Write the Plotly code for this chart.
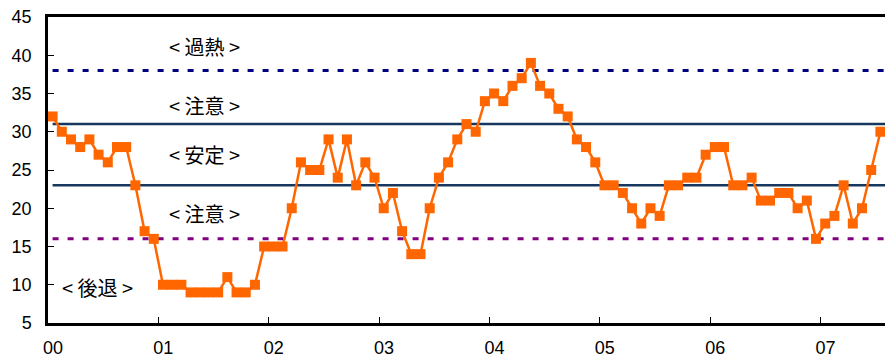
import plotly.graph_objects as go

# Monthly index values, Jan 2000 - Jul 2007
v2000 = [32, 30, 29, 28, 29, 27, 26, 28, 28, 23, 17, 16]
v2001 = [10, 10, 10, 9, 9, 9, 9, 11, 9, 9, 10, 15]
v2002 = [15, 15, 20, 26, 25, 25, 29, 24, 29, 23, 26, 24]
v2003 = [20, 22, 17, 14, 14, 20, 24, 26, 29, 31, 30, 34]
v2004 = [35, 34, 36, 37, 39, 36, 35, 33, 32, 29, 28, 26]
v2005 = [23, 23, 22, 20, 18, 20, 19, 23, 23, 24, 24, 27]
v2006 = [28, 28, 23, 23, 24, 21, 21, 22, 22, 20, 21, 16]
v2007 = [18, 19, 23, 18, 20, 25, 30]

year_labels = ["00", "01", "02", "03", "04", "05", "06", "07"]

# Zone thresholds
overheat_level = 38
upper_stable = 31
lower_stable = 23
recession_level = 16

zone_labels = ["< 過熱 >", "< 注意 >", "< 安定 >", "< 注意 >", "< 後退 >"]
zone_label_y = [41.1, 33.4, 27.0, 19.3, 9.6]
zone_label_x = [16.5, 16.5, 16.5, 16.5, 4.9]

values = v2000 + v2001 + v2002 + v2003 + v2004 + v2005 + v2006 + v2007
months = list(range(len(values)))

fig = go.Figure()

x_end = len(values) - 0.5
for lvl, col, dash, w in [
    (overheat_level, "#000080", "6px,9px", 3),
    (upper_stable, "#17375E", "solid", 2.5),
    (lower_stable, "#17375E", "solid", 2.5),
    (recession_level, "#800080", "6px,9px", 3),
]:
    fig.add_trace(go.Scatter(
        x=[months[0], x_end], y=[lvl, lvl], mode="lines",
        line=dict(color=col, width=w, dash=dash),
        hoverinfo="skip", showlegend=False, cliponaxis=False,
    ))

fig.add_trace(go.Scatter(
    x=months, y=values, mode="lines+markers",
    line=dict(color="#FF6600", width=2.5),
    marker=dict(symbol="square", size=10, color="#FF6600",
                line=dict(width=0)),
    showlegend=False, cliponaxis=False,
))

for t, xx, yy in zip(zone_labels, zone_label_x, zone_label_y):
    fig.add_annotation(
        x=xx, y=yy, xref="x", yref="y", text=t, showarrow=False,
        font=dict(family="Noto Sans CJK JP", size=20, color="#000000"),
        xanchor="center", yanchor="middle",
    )

fig.update_layout(
    template="none",
    width=885, height=360,
    margin=dict(l=48, r=0, t=17, b=37, autoexpand=False),
    plot_bgcolor="white", paper_bgcolor="white",
    font=dict(family="Liberation Sans, Arial", size=18, color="#000000"),
)

fig.update_xaxes(
    automargin=False,
    range=[-0.5, x_end],
    tickmode="array",
    tickvals=[i * 12 - 0.5 for i in range(len(year_labels))],
    ticktext=year_labels,
    ticks="inside", ticklen=6, tickwidth=1, tickcolor="#000000",
    ticklabelshift=5, ticklabelstandoff=7,
    showline=True, linecolor="#000000", linewidth=2.5, mirror=True,
    showgrid=False, zeroline=False,
)

fig.update_yaxes(
    automargin=False,
    range=[5, 45], tickmode="linear", tick0=5, dtick=5,
    ticks="inside", ticklen=6, tickwidth=1, tickcolor="#000000",
    ticklabelstandoff=10,
    showline=True, linecolor="#000000", linewidth=2.5,
    showgrid=False, zeroline=False,
)

fig.write_html("out.html")
